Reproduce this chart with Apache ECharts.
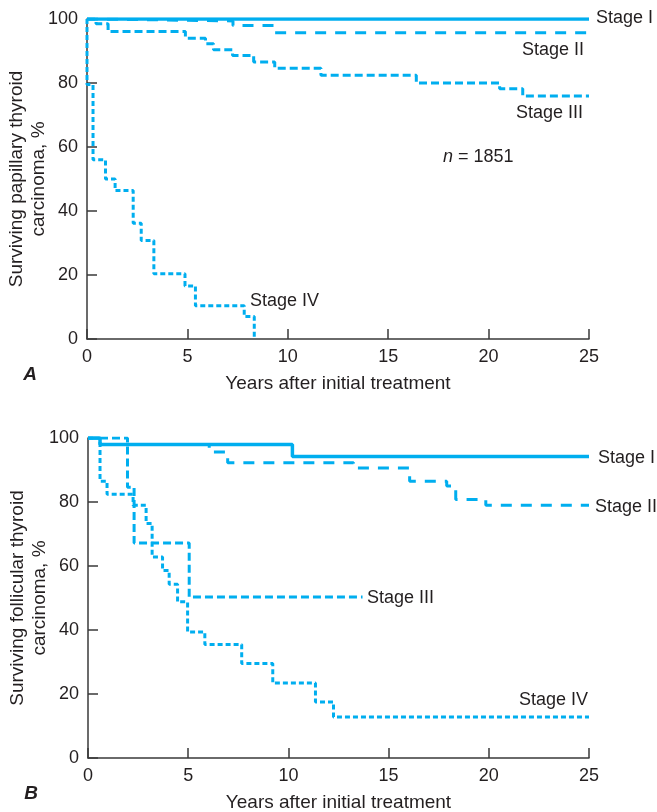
<!DOCTYPE html>
<html>
<head>
<meta charset="utf-8">
<script src="https://cdn.jsdelivr.net/npm/echarts@6/dist/echarts.min.js"></script>
<style>
html,body{margin:0;padding:0;background:#fff;}
#main{width:657px;height:812px;}
</style>
</head>
<body>
<div id="main"></div>
<script>
// ---- Panel A: papillary thyroid carcinoma (years, % surviving) ----
const papStage1Years = [0, 25];
const papStage1Surv  = [100, 100];
const papStage2Years = [0, 0.45, 7.27, 9.35, 25];
const papStage2Surv  = [100, 99.4, 98, 95.7, 95.7];
const papStage3Years = [0, 0.45, 1.05, 4.9, 5.9, 6.3, 7.25, 8.3, 9.35, 11.65, 16.4, 20.55, 21.7, 25];
const papStage3Surv  = [100, 98.5, 96.1, 94, 92.3, 90.4, 88.6, 86.6, 84.6, 82.4, 80, 78.2, 75.9, 75.9];
const papStage4Years = [0, 0, 0.3, 0.92, 1.4, 2.3, 2.7, 3.33, 4.88, 5.4, 7.83, 8.33];
const papStage4Surv  = [100, 79.5, 56, 50, 46.4, 36.2, 30.8, 20.4, 16.6, 10.4, 7, 0];

// ---- Panel B: follicular thyroid carcinoma ----
const folStage1Years = [0, 0.6, 10.2, 25];
const folStage1Surv  = [100, 98, 94.2, 94.2];
const folStage2Years = [0, 0.6, 6.05, 6.97, 13.25, 16.05, 17.9, 18.35, 19.85, 25];
const folStage2Surv  = [100, 98, 95.6, 92.3, 90.6, 86.5, 85, 80.8, 79, 79];
const folStage3Years = [0, 1.97, 2.3, 5.05, 13.7];
const folStage3Surv  = [100, 84.6, 67.2, 50.3, 50.3];
const folStage4Years = [0, 0.6, 0.95, 2.25, 2.9, 3.2, 3.72, 4.05, 4.47, 4.97, 5.83, 7.67, 9.22, 11.35, 12.25, 25];
const folStage4Surv  = [100, 86.5, 82.4, 79, 73.3, 62.8, 58.6, 54.3, 48.8, 39.4, 35.5, 29.5, 23.4, 17.5, 12.8, 12.8];

// ---- axis ticks / labels ----
const xTicks = [0, 5, 10, 15, 20, 25];
const yTicks = [0, 20, 40, 60, 80, 100];
const xTitle = 'Years after initial treatment';
const yTitleA = 'Surviving papillary thyroid\ncarcinoma, %';
const yTitleB = 'Surviving follicular thyroid\ncarcinoma, %';

const BLUE = '#00aeef';
const INK = '#231f20';
const FONT = '"Liberation Sans", Arial, Helvetica, sans-serif';

function pairs(xs, ys) { return xs.map((x, i) => [x, ys[i]]); }

function xAxisFor(grid) {
  return {
    gridIndex: grid, type: 'value', min: xTicks[0], max: xTicks[xTicks.length - 1], interval: 5,
    axisLine: { show: true, onZero: false, lineStyle: { color: '#3a3a3a', width: 1.5 } },
    axisTick: { show: true, inside: true, length: 10, lineStyle: { color: '#3a3a3a', width: 1.5 } },
    axisLabel: { color: INK, fontSize: 18, fontFamily: FONT, margin: 9 },
    splitLine: { show: false },
    name: xTitle, nameLocation: 'middle', nameGap: 35, nameMoveOverlap: false,
    nameTextStyle: { color: INK, fontSize: 19, fontFamily: FONT }
  };
}
function yAxisFor(grid, title) {
  return {
    gridIndex: grid, type: 'value', min: yTicks[0], max: yTicks[yTicks.length - 1], interval: 20,
    axisLine: { show: true, onZero: false, lineStyle: { color: '#3a3a3a', width: 1.5 } },
    axisTick: { show: true, inside: true, length: 10, lineStyle: { color: '#3a3a3a', width: 1.5 } },
    axisLabel: { color: INK, fontSize: 18, fontFamily: FONT, margin: 9 },
    splitLine: { show: false },
    name: title, nameLocation: 'middle', nameRotate: 90, nameGap: 37, nameMoveOverlap: false,
    nameTextStyle: { color: INK, fontSize: 19, fontFamily: FONT, lineHeight: 22 }
  };
}
function stepSeries(name, grid, xs, ys, dash, width, z) {
  return {
    name: name, type: 'line', step: 'end', xAxisIndex: grid, yAxisIndex: grid,
    data: pairs(xs, ys), showSymbol: false, symbol: 'none', z: z,
    lineStyle: { color: BLUE, width: width, type: dash, cap: 'butt' },
    emphasis: { disabled: true }, silent: true
  };
}

const chart = echarts.init(document.getElementById('main'), null, { renderer: 'canvas' });

function label(text, x, y, extra) {
  return Object.assign({
    type: 'text', x: x, y: y,
    style: { text: text, fill: INK, font: '18px ' + FONT, textAlign: 'left', textVerticalAlign: 'middle' }
  }, extra || {});
}

chart.setOption({
  animation: false,
  backgroundColor: '#fff',
  grid: [
    { left: 87, top: 19, width: 502, height: 320, containLabel: false, outerBoundsMode: 'none' },
    { left: 88, top: 438, width: 501, height: 320, containLabel: false, outerBoundsMode: 'none' }
  ],
  xAxis: [xAxisFor(0), xAxisFor(1)],
  yAxis: [yAxisFor(0, yTitleA), yAxisFor(1, yTitleB)],
  series: [
    stepSeries('A Stage IV', 0, papStage4Years, papStage4Surv, [5, 3], 3, 2),
    stepSeries('A Stage III', 0, papStage3Years, papStage3Surv, [8, 4], 3, 3),
    stepSeries('A Stage II', 0, papStage2Years, papStage2Surv, [11, 9], 3, 4),
    stepSeries('A Stage I', 0, papStage1Years, papStage1Surv, 'solid', 3.5, 5),
    stepSeries('B Stage IV', 1, folStage4Years, folStage4Surv, [5, 3], 3, 2),
    stepSeries('B Stage III', 1, folStage3Years, folStage3Surv, [8, 4], 3, 3),
    stepSeries('B Stage II', 1, folStage2Years, folStage2Surv, [11, 9], 3, 4),
    stepSeries('B Stage I', 1, folStage1Years, folStage1Surv, 'solid', 3.5, 5)
  ],
  graphic: [
    label('Stage I', 596, 18),
    label('Stage II', 522, 50),
    label('Stage III', 516, 113),
    {
      type: 'text', x: 443, y: 157,
      style: {
        text: '{i|n} = 1851', textVerticalAlign: 'middle',
        rich: { i: { font: 'italic 18px ' + FONT, fill: INK } },
        font: '18px ' + FONT, fill: INK
      }
    },
    label('Stage IV', 250, 301),
    label('A', 30, 375, { style: { text: 'A', fill: INK, font: 'italic bold 19px ' + FONT, textAlign: 'center', textVerticalAlign: 'middle' } }),
    label('Stage I', 598, 458),
    label('Stage II', 595, 507),
    label('Stage III', 367, 598),
    label('Stage IV', 519, 700),
    label('B', 31, 794, { style: { text: 'B', fill: INK, font: 'italic bold 19px ' + FONT, textAlign: 'center', textVerticalAlign: 'middle' } })
  ]
});
</script>
</body>
</html>
